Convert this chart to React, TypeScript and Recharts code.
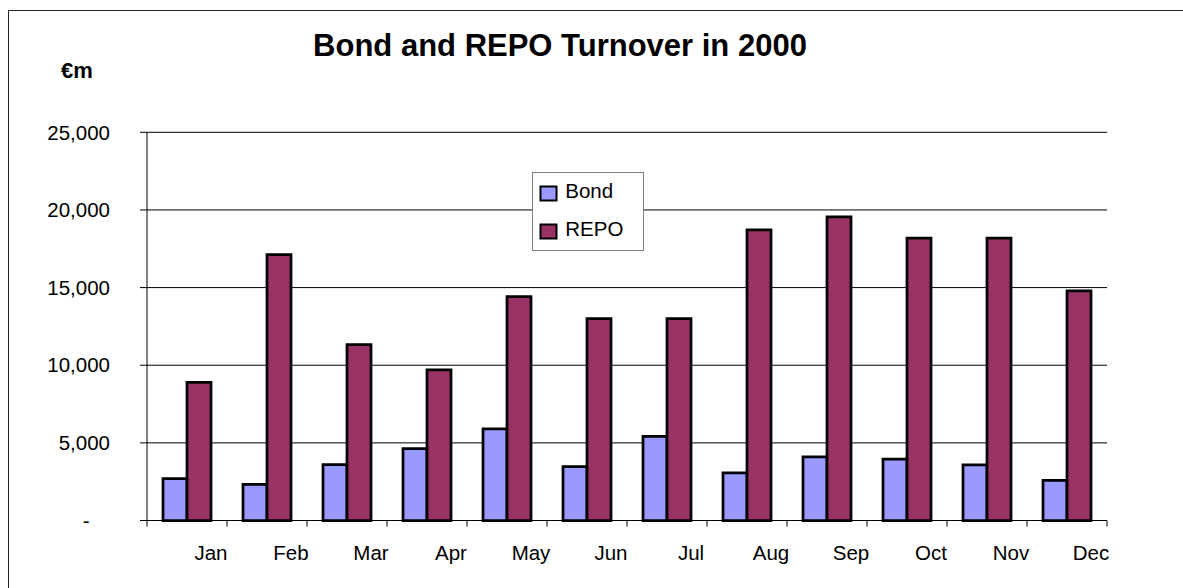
import * as React from "react";
import { Bar, BarChart, CartesianGrid, Legend, XAxis, YAxis } from "recharts";

const months = ["Jan", "Feb", "Mar", "Apr", "May", "Jun", "Jul", "Aug", "Sep", "Oct", "Nov", "Dec"];
const bond = [2700, 2330, 3600, 4630, 5900, 3470, 5420, 3060, 4090, 3960, 3580, 2590];
const repo = [8900, 17130, 11330, 9700, 14420, 13000, 13000, 18720, 19560, 18180, 18180, 14790];
const yTicks = [0, 5000, 10000, 15000, 20000, 25000];

const FONT = "'Liberation Sans', Arial, sans-serif";
const BOND_COLOR = "#9999FF";
const REPO_COLOR = "#993366";

const data = months.map((m, i) => ({ month: m, Bond: bond[i], REPO: repo[i] }));

// month labels sit right of the band centre, ticks on band edges
function MonthTick(props: any) {
  const { x, y, payload, index, width } = props;
  const band = (width || 960) / months.length;
  const left = x - band / 2;
  return (
    <g>
      <line x1={left} x2={left} y1={y} y2={y + 6} stroke="#000" />
      {index === months.length - 1 && (
        <line x1={left + band} x2={left + band} y1={y} y2={y + 6} stroke="#000" />
      )}
      <text
        x={x + band * 0.3}
        y={y + 39.5}
        textAnchor="middle"
        fontSize={20.5}
        fontFamily={FONT}
        fill="#000"
      >
        {payload.value}
      </text>
    </g>
  );
}

function ValueTick(props: any) {
  const { x, y, payload } = props;
  const v = payload.value as number;
  return (
    <text
      x={v === 0 ? x - 20.5 : x}
      y={y}
      dy="0.355em"
      textAnchor="end"
      fontSize={20.5}
      fontFamily={FONT}
      fill="#000"
    >
      {v === 0 ? "-" : v.toLocaleString("en-US")}
    </text>
  );
}

function LegendBox() {
  const items = [
    { name: "Bond", color: BOND_COLOR, y: 14.5, base: 26 },
    { name: "REPO", color: REPO_COLOR, y: 52.5, base: 63.7 },
  ];
  return (
    <svg width={112} height={79} style={{ display: "block" }}>
      <rect x={0.5} y={0.5} width={111} height={78} fill="#fff" stroke="#808080" />
      {items.map((it) => (
        <g key={it.name}>
          <rect x={8.5} y={it.y} width={16} height={14} fill={it.color} stroke="#000" strokeWidth={2} />
          <text x={33.3} y={it.base} fontSize={20.5} fontFamily={FONT} fill="#000">
            {it.name}
          </text>
        </g>
      ))}
    </svg>
  );
}

export default function App() {
  return (
    <div style={{ position: "absolute", left: 0, top: 0, width: 1183, height: 588, background: "#fff" }}>
      <BarChart
        width={1183}
        height={588}
        data={data}
        margin={{ top: 132.3, right: 76, bottom: 7.5, left: 0 }}
        barCategoryGap="20%"
        barGap={0}
      >
        <CartesianGrid vertical={false} stroke="#000" />
        <XAxis
          dataKey="month"
          height={60}
          stroke="#000"
          tickLine={false}
          tickSize={0}
          tickMargin={0}
          interval={0}
          tick={<MonthTick />}
        />
        <YAxis
          width={147}
          domain={[0, 25000]}
          ticks={yTicks}
          stroke="#000"
          tickSize={7}
          tickMargin={30}
          interval={0}
          tick={<ValueTick />}
        />
        <Legend
          layout="vertical"
          align="center"
          verticalAlign="middle"
          content={() => <LegendBox />}
          wrapperStyle={{ left: 531.5, top: 172.3, width: 112, height: 79 }}
        />
        <Bar dataKey="Bond" fill={BOND_COLOR} stroke="#000" strokeWidth={2.75} isAnimationActive={false} />
        <Bar dataKey="REPO" fill={REPO_COLOR} stroke="#000" strokeWidth={2.75} isAnimationActive={false} />
      </BarChart>
      <svg
        width={1183}
        height={588}
        style={{ position: "absolute", left: 0, top: 0, pointerEvents: "none" }}
      >
        <line x1={8.5} y1={10.5} x2={1183} y2={10.5} stroke="#222" />
        <line x1={8.5} y1={10.5} x2={8.5} y2={588} stroke="#222" />
        <text x={560} y={56} textAnchor="middle" fontSize={31} fontWeight="bold" fontFamily={FONT} fill="#000">
          Bond and REPO Turnover in 2000
        </text>
        <text x={61} y={78.3} fontSize={22} fontWeight="bold" fontFamily={FONT} fill="#000">
          €m
        </text>
      </svg>
    </div>
  );
}
